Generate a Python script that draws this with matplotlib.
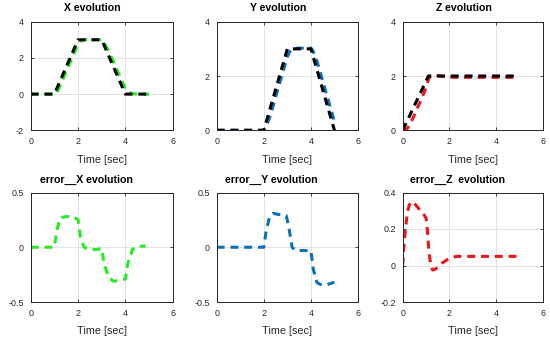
import matplotlib
matplotlib.use("Agg")
import matplotlib.pyplot as plt
from matplotlib.ticker import FormatStrFormatter

plt.rcParams['font.family'] = ['Liberation Sans', 'DejaVu Sans']

# reference trajectories
t_x_ref = [0, 1, 2, 3, 4, 5]
x_ref = [0, 0, 3, 3, 0, 0]
t_y_ref = [0, 2, 3, 4, 5]
y_ref = [0, 0, 3, 3, 0]
t_z_ref = [0, 1.1, 5]
z_ref = [0, 2, 2]

# measured trajectories
t_x_act = [0, 1.0, 1.1, 1.25, 2.0, 2.1, 2.25, 2.5, 3.0, 3.1, 3.3, 4.0, 4.1, 4.3, 5.0]
x_act = [0, 0, 0.05, 0.48, 2.75, 2.9, 3.0, 3.02, 3.01, 2.85, 2.38, 0.29, 0.15, 0.02, -0.01]
t_y_act = [0, 2.0, 2.1, 2.25, 3.0, 3.1, 3.25, 4.0, 4.1, 4.25, 5.0]
y_act = [0, 0, 0.15, 0.47, 2.71, 2.9, 3.02, 3.03, 2.9, 2.57, 0.32]
t_z_act = [0, 0.05, 0.12, 0.2, 0.28, 0.36, 0.5, 0.7, 0.85, 1.0, 1.05, 1.12, 1.2, 1.28,
           1.4, 1.7, 2.0, 2.3, 4.9]
z_act = [0, 0, 0.02, 0.07, 0.18, 0.30, 0.57, 0.96, 1.26, 1.56, 1.71, 1.92, 2.0, 2.025,
         2.02, 1.985, 1.96, 1.95, 1.95]

# tracking errors
t_ex = [0, 1.0, 1.1, 1.25, 1.5, 1.8, 2.0, 2.1, 2.25, 2.5, 2.8, 3.0, 3.1, 3.3, 3.5, 3.8,
        4.0, 4.1, 4.3, 4.5, 4.85]
err_x = [0, 0, 0.15, 0.27, 0.28, 0.28, 0.25, 0.1, 0.0, -0.02, -0.02, -0.01, -0.15, -0.28,
         -0.31, -0.3, -0.29, -0.15, -0.02, 0.01, 0.01]
t_ey = [0, 2.0, 2.1, 2.25, 2.4, 2.6, 2.95, 3.05, 3.2, 3.35, 3.6, 4.0, 4.1, 4.25, 4.4, 4.7, 5.0]
err_y = [0, 0, 0.15, 0.28, 0.31, 0.3, 0.29, 0.2, 0.0, -0.03, -0.03, -0.03, -0.2, -0.32,
         -0.34, -0.34, -0.32]
t_ez = [0, 0.05, 0.12, 0.2, 0.28, 0.36, 0.5, 0.7, 0.85, 1.0, 1.05, 1.12, 1.2, 1.28, 1.4,
        1.7, 2.0, 2.3, 4.9]
err_z = [0, 0.1, 0.2, 0.29, 0.33, 0.35, 0.34, 0.31, 0.29, 0.26, 0.2, 0.08, 0.0, -0.025,
         -0.02, 0.015, 0.04, 0.05, 0.05]

green = '#22ee22'
blue = '#0a70b8'
red = '#e81818'
dark = '#262626'

W, H = 550, 339
fig = plt.figure(figsize=(W / 100, H / 100), dpi=100)

cols = [(30.7, 172.7), (216.7, 358.0), (402.7, 543.0)]
rows = [(21.7, 130.3), (192.5, 302.0)]


def make_ax(r, c):
    x0, x1 = cols[c]
    y0, y1 = rows[r]
    return fig.add_axes([x0 / W, 1 - y1 / H, (x1 - x0) / W, (y1 - y0) / H])


def style(ax, ylim, yticks, title, tx, ty):
    ax.set_xlim(0, 6)
    ax.set_xticks([0, 2, 4, 6])
    ax.set_ylim(*ylim)
    ax.set_yticks(yticks)
    ax.yaxis.set_major_formatter(FormatStrFormatter('%g'))
    ax.grid(True, color='#e3e3e3', linewidth=0.7)
    ax.set_axisbelow(True)
    ax.tick_params(direction='in', length=2.5, width=0.6, top=True, right=True,
                   labelsize=6.4, colors=dark, pad=5)
    for s in ax.spines.values():
        s.set_color(dark)
        s.set_linewidth(0.7)
    ax.set_xlabel('Time [sec]', fontsize=7.8, color=dark, labelpad=6)
    ax.text(tx, ty, title, transform=ax.transAxes, ha='center', va='baseline',
            fontsize=7.6, fontweight='bold', color='black')


dash = dict(linestyle=(0, (2.6, 1.9)), linewidth=2.2)

ax = make_ax(0, 0)
ax.plot(t_x_act, x_act, color=green, **dash)
ax.plot(t_x_ref, x_ref, color='black', **dash)
style(ax, (-2, 4), [-2, 0, 2, 4], 'X evolution', 0.435, 1.10)

ax = make_ax(0, 1)
ax.plot(t_y_act, y_act, color=blue, **dash)
ax.plot(t_y_ref, y_ref, color='black', **dash)
style(ax, (0, 4), [0, 2, 4], 'Y evolution', 0.435, 1.10)

ax = make_ax(0, 2)
ax.plot(t_z_act, z_act, color=red, **dash)
ax.plot(t_z_ref, z_ref, color='black', **dash)
style(ax, (0, 4), [0, 2, 4], 'Z evolution', 0.435, 1.10)

ax = make_ax(1, 0)
ax.plot(t_ex, err_x, color=green, **dash)
style(ax, (-0.5, 0.5), [-0.5, 0, 0.5], 'error__X evolution', 0.39, 1.085)

ax = make_ax(1, 1)
ax.plot(t_ey, err_y, color=blue, **dash)
style(ax, (-0.5, 0.5), [-0.5, 0, 0.5], 'error__Y evolution', 0.39, 1.085)

ax = make_ax(1, 2)
ax.plot(t_ez, err_z, color=red, **dash)
style(ax, (-0.2, 0.4), [-0.2, 0, 0.2, 0.4], 'error__Z  evolution', 0.39, 1.085)

fig.savefig('out.png', dpi=100, facecolor='white')
